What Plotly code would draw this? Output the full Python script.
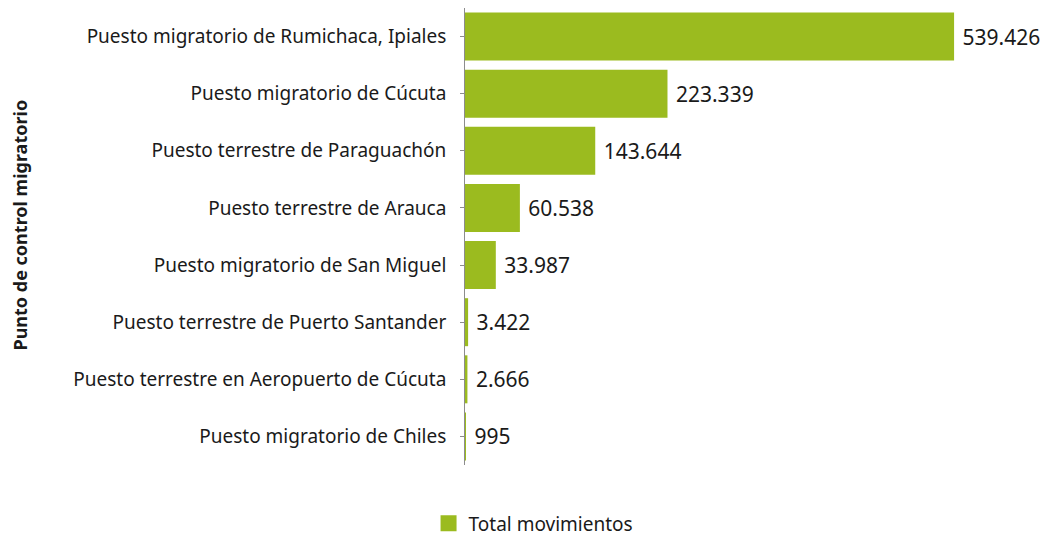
import plotly.graph_objects as go

categories = [
    "Puesto migratorio de Rumichaca, Ipiales",
    "Puesto migratorio de Cúcuta",
    "Puesto terrestre de Paraguachón",
    "Puesto terrestre de Arauca",
    "Puesto migratorio de San Miguel",
    "Puesto terrestre de Puerto Santander",
    "Puesto terrestre en Aeropuerto de Cúcuta",
    "Puesto migratorio de Chiles",
]
values = [539426, 223339, 143644, 60538, 33987, 3422, 2666, 995]
series_name = "Total movimientos"
axis_title = "Punto de control migratorio"

FONT = "Noto Sans"
GREEN = "#9BBB1F"
TXT = "#1a1a1a"

fig = go.Figure()
fig.add_trace(go.Bar(
    y=categories, x=values, orientation="h",
    name=series_name, marker=dict(color=GREEN, line=dict(width=0)),
    text=[" " + f"{v:,}".replace(",", ".") for v in values],
    textposition="outside", cliponaxis=False,
    textfont=dict(family=FONT, size=21, color=TXT),
    showlegend=False, legendgroup="g",
))
# legend entry with a larger square swatch
fig.add_trace(go.Scatter(
    x=[None], y=[None], mode="markers", name=series_name, legendgroup="g",
    marker=dict(symbol="square", size=16, color=GREEN), showlegend=True,
))

fig.update_layout(
    width=1041, height=528,
    margin=dict(l=457, r=40, t=0, b=71, autoexpand=False),
    plot_bgcolor="white", paper_bgcolor="white",
    bargap=0.16,
    font=dict(family=FONT, size=19, color=TXT),
    xaxis=dict(range=[0, 600000], visible=False, showgrid=False, zeroline=False),
    yaxis=dict(autorange="reversed", showline=True, linecolor="#8c8c8c", linewidth=1,
               ticks="outside", ticklen=4, tickcolor="#8c8c8c",
               tickfont=dict(family=FONT, size=19, color=TXT), ticksuffix="  ",
               showgrid=False, zeroline=False),
    legend=dict(orientation="h", x=-0.067, xanchor="left", y=-0.086, yanchor="top",
                borderwidth=0, font=dict(family=FONT, size=19, color=TXT)),
    annotations=[dict(text=f"<b>{axis_title}</b>", textangle=-90, xref="paper", yref="paper",
                      x=-0.818, y=0.524, xanchor="center", yanchor="middle", showarrow=False,
                      font=dict(family=FONT, size=18, color=TXT))],
)
fig.write_html("out.html")
